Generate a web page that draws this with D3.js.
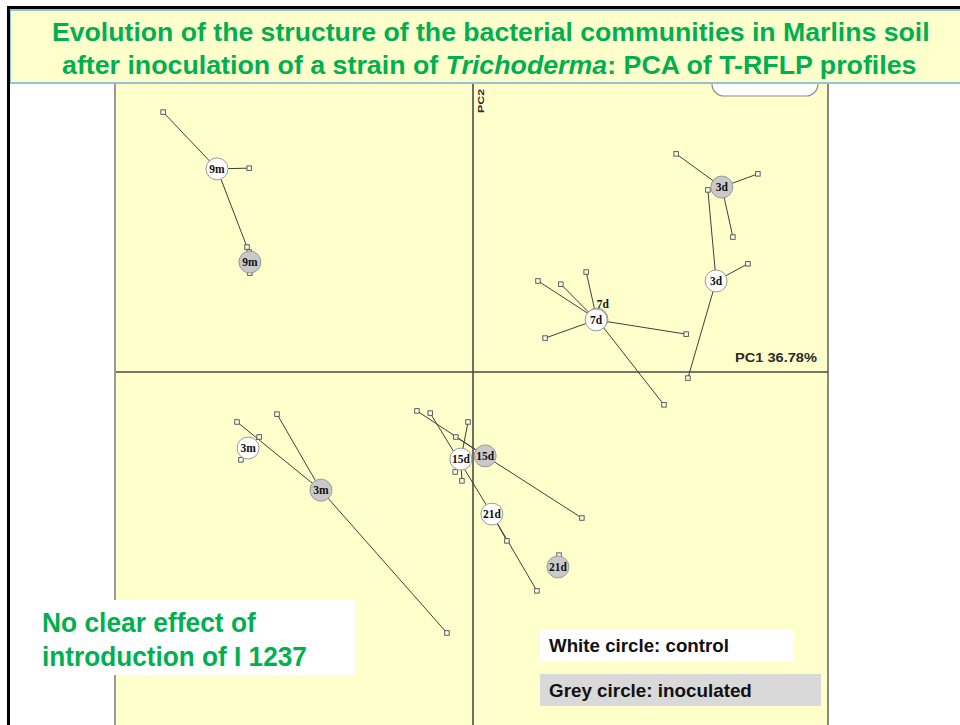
<!DOCTYPE html>
<html>
<head>
<meta charset="utf-8">
<script src="https://cdn.jsdelivr.net/npm/d3@7/dist/d3.min.js"></script>
<style>
  html, body { margin: 0; padding: 0; background: #fff; }
  svg { display: block; }
</style>
</head>
<body>
<svg id="chart" width="960" height="725"></svg>
<script>
// PCA of T-RFLP profiles: scores on PC1 / PC2 for each sampling date and treatment.
// Each group is drawn as a star: centroid circle linked to its replicate scores.
const groupLabels = ["9m", "9m", "3d", "3d", "7d", "7d", "3m", "3m", "15d", "15d", "21d", "21d"];
const treatments  = ["control", "inoculated", "control", "inoculated", "control", "inoculated",
                     "control", "inoculated", "control", "inoculated", "control", "inoculated"];
const centroidPC1 = [-7.17, -6.25, 6.81, 6.97, 3.45, 3.47, -6.30, -4.26, -0.34, 0.34, 0.53, 2.38];
const centroidPC2 = [ 5.69,  3.08, 2.55, 5.18, 1.46, 1.48, -2.13, -3.31, -2.44, -2.35, -3.98, -5.46];
const replicatePC1 = [
  [-8.68, -6.27, -6.33],
  [-6.27, -6.25, -6.22],
  [ 6.58,  7.70,  6.02],
  [ 5.69,  7.98,  7.28],
  [ 2.46,  2.02,  5.97],
  [ 1.82,  3.17,  5.35],
  [-5.99, -6.50, -6.41],
  [-6.61, -5.49, -0.73],
  [-0.14, -0.50, -0.31],
  [-1.57,  3.05, -0.48],
  [-1.20,  0.95,  1.79],
  [ 2.41,  2.35,  2.41]
];
const replicatePC2 = [
  [ 7.28,  5.71,  3.50],
  [ 3.36,  2.77,  3.11],
  [ 5.10,  3.03, -0.17],
  [ 6.11,  5.55,  3.78],
  [ 2.46,  0.95,  1.06],
  [ 2.55,  2.80, -0.92],
  [-1.82, -2.46, -2.10],
  [-1.40, -1.18, -7.31],
  [-1.40, -2.80, -3.05],
  [-1.09, -4.09, -1.82],
  [-1.15, -4.73, -6.13],
  [-5.13, -5.63, -5.63]
];
const axisTitles = ["PC1 36.78%", "PC2"];
const titleLines = [
  [{ t: "Evolution of the structure of the bacterial communities in Marlins soil" }],
  [{ t: "after inoculation of a strain of " }, { t: "Trichoderma", i: true }, { t: ": PCA of T-RFLP profiles" }]
];
const noteLines = ["No clear effect of", "introduction of I 1237"];
const legendLabels = ["White circle: control", "Grey circle: inoculated"];

const treatmentFill = { control: "#ffffff", inoculated: "#c9c9c9" };

const svg = d3.select("#chart");
const W = 960, H = 725;

// plot frame
const plot = { left: 116, right: 828, top: 83, bottom: 725 };
const x = d3.scaleLinear().domain([-10, 10]).range([116, 830]);
const y = d3.scaleLinear().domain([-10, 10]).range([729, 15]);

svg.append("rect").attr("width", W).attr("height", H).attr("fill", "#fff");

svg.append("rect")
  .attr("x", plot.left).attr("y", plot.top)
  .attr("width", plot.right - plot.left).attr("height", plot.bottom - plot.top)
  .attr("fill", "#ffffcc");
svg.append("line").attr("x1", plot.left - 1).attr("x2", plot.left - 1)
  .attr("y1", plot.top).attr("y2", plot.bottom)
  .attr("stroke", "#9a9a9a").attr("stroke-width", 2);
svg.append("line").attr("x1", plot.right).attr("x2", plot.right)
  .attr("y1", plot.top).attr("y2", plot.bottom)
  .attr("stroke", "#8a8a7a").attr("stroke-width", 2);

// zero axes
svg.append("line")
  .attr("x1", plot.left).attr("x2", plot.right)
  .attr("y1", y(0)).attr("y2", y(0))
  .attr("stroke", "#4a4a4a").attr("stroke-width", 1.4);
svg.append("line")
  .attr("x1", x(0)).attr("x2", x(0))
  .attr("y1", plot.top).attr("y2", plot.bottom)
  .attr("stroke", "#4a4a4a").attr("stroke-width", 1.6);

// axis titles
const pc1 = svg.append("text")
  .attr("x", 0).attr("y", y(0) - 10)
  .attr("font-family", "Liberation Sans, Arial, sans-serif")
  .attr("font-weight", "bold").attr("font-size", 12.5)
  .attr("fill", "#2a2a2a")
  .text(axisTitles[0]);
fitWidth(pc1, 735, 82);

svg.append("text")
  .attr("transform", `translate(${x(0) + 11},113) rotate(-90)`)
  .attr("font-family", "Liberation Sans, Arial, sans-serif")
  .attr("font-weight", "bold").attr("font-size", 9)
  .attr("textLength", 24).attr("lengthAdjust", "spacingAndGlyphs")
  .attr("fill", "#2a2a2a")
  .text(axisTitles[1]);

// legend box partly hidden under the title banner
svg.append("rect")
  .attr("x", 712).attr("y", 50).attr("width", 106).attr("height", 46)
  .attr("rx", 12).attr("fill", "#fff").attr("stroke", "#8c8c8c").attr("stroke-width", 1.2);

// group records
const groups = groupLabels.map((g, i) => ({
  label: g,
  treatment: treatments[i],
  cx: centroidPC1[i], cy: centroidPC2[i],
  reps: replicatePC1[i].map((v, j) => ({ px: v, py: replicatePC2[i][j] }))
}));
// inoculated stars are drawn underneath the control ones
const drawOrder = groups.filter(d => d.treatment === "inoculated")
  .concat(groups.filter(d => d.treatment === "control"));

const gData = svg.append("g");

// spokes
gData.selectAll("g.spokes").data(drawOrder).join("g").attr("class", "spokes")
  .selectAll("line").data(d => d.reps.map(r => ({ r, c: d }))).join("line")
  .attr("x1", d => x(d.c.cx)).attr("y1", d => y(d.c.cy))
  .attr("x2", d => x(d.r.px)).attr("y2", d => y(d.r.py))
  .attr("stroke", "#3f3f3f").attr("stroke-width", 1);

// replicate markers
const sq = 4.5;
gData.selectAll("g.reps").data(drawOrder).join("g").attr("class", "reps")
  .selectAll("rect").data(d => d.reps).join("rect")
  .attr("x", d => x(d.px) - sq / 2).attr("y", d => y(d.py) - sq / 2)
  .attr("width", sq).attr("height", sq)
  .attr("fill", "#fdfdf0").attr("stroke", "#4a4a4a").attr("stroke-width", 0.9);

// centroids
gData.selectAll("circle.centroid").data(drawOrder).join("circle")
  .attr("class", "centroid")
  .attr("cx", d => x(d.cx)).attr("cy", d => y(d.cy)).attr("r", 11)
  .attr("fill", d => treatmentFill[d.treatment])
  .attr("stroke", "#9a9a9a").attr("stroke-width", 1);

// centroid labels; a label whose circle sits under another one is lifted above it
const hidden = new Set(["7d|inoculated"]);
gData.selectAll("text.centroid-label").data(drawOrder).join("text")
  .attr("class", "centroid-label")
  .attr("x", d => x(d.cx) + (hidden.has(d.label + "|" + d.treatment) ? 6 : 0))
  .attr("y", d => y(d.cy) + (hidden.has(d.label + "|" + d.treatment) ? -11 : 4))
  .attr("text-anchor", "middle")
  .attr("font-family", "Liberation Serif, Times New Roman, serif")
  .attr("font-weight", "bold").attr("font-size", 11.5)
  .attr("fill", "#111")
  .text(d => d.label);

// title banner
svg.append("rect")
  .attr("x", 10).attr("y", 10).attr("width", W).attr("height", 73)
  .attr("fill", "#ffffcc").attr("stroke", "#93c4d6").attr("stroke-width", 2);

const titleSpans = [[52, 878, 41], [62, 855, 74]];
titleLines.forEach((parts, k) => {
  const t = svg.append("text")
    .attr("y", titleSpans[k][2])
    .attr("font-family", "Liberation Sans, Arial, sans-serif")
    .attr("font-weight", "bold").attr("font-size", 26)
    .attr("fill", "#00b050");
  parts.forEach(p => {
    t.append("tspan").attr("font-style", p.i ? "italic" : "normal").text(p.t);
  });
  fitWidth(t, titleSpans[k][0], titleSpans[k][1]);
});

// outer frame
svg.append("line").attr("x1", 7).attr("x2", W).attr("y1", 7.5).attr("y2", 7.5)
  .attr("stroke", "#000").attr("stroke-width", 3);
svg.append("line").attr("x1", 8.5).attr("x2", 8.5).attr("y1", 6).attr("y2", H)
  .attr("stroke", "#000").attr("stroke-width", 3);

// conclusion note
svg.append("rect").attr("x", 27).attr("y", 600).attr("width", 328).attr("height", 75)
  .attr("fill", "#fff");
const noteSpans = [[42, 214, 632], [42, 265, 666]];
noteLines.forEach((s, k) => {
  const t = svg.append("text")
    .attr("y", noteSpans[k][2])
    .attr("font-family", "Liberation Sans, Arial, sans-serif")
    .attr("font-weight", "bold").attr("font-size", 27)
    .attr("fill", "#00b050")
    .text(s);
  fitWidth(t, noteSpans[k][0], noteSpans[k][1]);
});

// treatment key
const keyBoxes = [
  { x: 540, y: 629, w: 254, h: 32, fill: "#ffffff", tw: 180, base: 652 },
  { x: 540, y: 674, w: 281, h: 32, fill: "#d9d9d9", tw: 203, base: 697 }
];
legendLabels.forEach((s, k) => {
  const b = keyBoxes[k];
  svg.append("rect").attr("x", b.x).attr("y", b.y).attr("width", b.w).attr("height", b.h)
    .attr("fill", b.fill);
  const t = svg.append("text")
    .attr("y", b.base)
    .attr("font-family", "Liberation Sans, Arial, sans-serif")
    .attr("font-weight", "bold").attr("font-size", 18)
    .attr("fill", "#111")
    .text(s);
  fitWidth(t, 549, b.tw);
});

// squeeze a text element horizontally so it spans exactly `width` px from x0
function fitWidth(sel, x0, width) {
  sel.attr("x", 0);
  const w = sel.node().getComputedTextLength();
  sel.attr("transform", `translate(${x0},0) scale(${width / w},1)`);
}
</script>
</body>
</html>
